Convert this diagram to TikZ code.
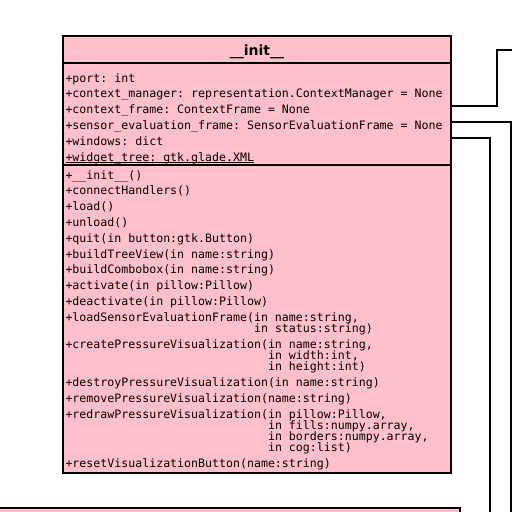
\documentclass[tikz,border=0pt]{standalone}
\usepackage{fontspec}
\setsansfont{DejaVu Sans}
\newfontfamily\monof{DejaVu Sans Mono}
\definecolor{umlpink}{HTML}{FFC0CB}
\frenchspacing
\begin{document}
\begin{tikzpicture}[x=1pt,y=-1pt,
  line/.style={draw=black, line width=2pt},
  box/.style={draw=black, line width=2pt, fill=umlpink, inner sep=0pt, outer sep=0pt},
  txt/.style={anchor=base west, inner sep=0pt, outer sep=0pt, font={\monof\frenchspacing\fontsize{11.6pt}{11.6pt}\selectfont}},
  ttl/.style={anchor=base, inner sep=0pt, font={\sffamily\bfseries\fontsize{14pt}{14pt}\selectfont}}]
\path[use as bounding box] (0,0) rectangle (512,512);
\clip (0,0) rectangle (512,512);
% lower class box (partly off page)
\node[box, minimum width=480pt, minimum height=60pt, anchor=north east] (low) at (460,508) {};
% main class box
\node[box, minimum width=388pt, minimum height=437pt, anchor=north west] (cls) at (63,36) {};
\draw[line] (cls.west |- 0,63) -- (cls.east |- 0,63);
\draw[line] (cls.west |- 0,164.5) -- (cls.east |- 0,164.5);
\node[ttl] (title) at (257,55) {\_\_init\_\_};
% attributes
\node[txt] (a1) at (65.5,82) {+port: int};
\node[txt] (a2) at (65.5,97.9) {+context\_manager: representation.ContextManager = None};
\node[txt] (a3) at (65.5,113.8) {+context\_frame: ContextFrame = None};
\node[txt] (a4) at (65.5,129.7) {+sensor\_evaluation\_frame: SensorEvaluationFrame = None};
\node[txt] (a5) at (65.5,145.6) {+windows: dict};
\node[txt] (a6) at (65.5,161.3) {+widget\_tree: gtk.glade.XML};
\draw[line width=1pt] ([yshift=-1.2pt]a6.base west) -- ([yshift=-1.2pt]a6.base east);
% methods
\node[txt] (m1) at (65.5,179) {+\_\_init\_\_()};
\node[txt] (m2) at (65.5,194.8) {+connectHandlers()};
\node[txt] (m3) at (65.5,210.6) {+load()};
\node[txt] (m4) at (65.5,226.4) {+unload()};
\node[txt] (m5) at (65.5,242.2) {+quit(in button:gtk.Button)};
\node[txt] (m6) at (65.5,258) {+buildTreeView(in name:string)};
\node[txt] (m7) at (65.5,273.8) {+buildCombobox(in name:string)};
\node[txt] (m8) at (65.5,289.6) {+activate(in pillow:Pillow)};
\node[txt] (m9) at (65.5,305.4) {+deactivate(in pillow:Pillow)};
\node[txt] (m10) at (65.5,321.2) {+loadSensorEvaluationFrame(in name:string,};
\node[txt] (m10b) at (65.5,332.4) {\hphantom{+loadSensorEvaluationFrame(}in status:string)};
\node[txt] (m11) at (65.5,348.2) {+createPressureVisualization(in name:string,};
\node[txt] (m11b) at (65.5,359.4) {\hphantom{+createPressureVisualization(}in width:int,};
\node[txt] (m11c) at (65.5,370.6) {\hphantom{+createPressureVisualization(}in height:int)};
\node[txt] (m12) at (65.5,386.4) {+destroyPressureVisualization(in name:string)};
\node[txt] (m13) at (65.5,402.2) {+removePressureVisualization(name:string)};
\node[txt] (m14) at (65.5,418) {+redrawPressureVisualization(in pillow:Pillow,};
\node[txt] (m14b) at (65.5,429.2) {\hphantom{+redrawPressureVisualization(}in fills:numpy.array,};
\node[txt] (m14c) at (65.5,440.4) {\hphantom{+redrawPressureVisualization(}in borders:numpy.array,};
\node[txt] (m14d) at (65.5,451.6) {\hphantom{+redrawPressureVisualization(}in cog:list)};
\node[txt] (m15) at (65.5,467.4) {+resetVisualizationButton(name:string)};
% connectors
\coordinate (s1) at (cls.east |- 0,106);
\coordinate (s2) at (cls.east |- 0,122);
\coordinate (s3) at (cls.east |- 0,138);
\coordinate (e1) at (516,50);
\coordinate (e2) at (511,516);
\coordinate (e3) at (490,516);
\draw[line] (s1) -- (497,106) |- (e1);
\draw[line] (s2) -| (e2);
\draw[line] (s3) -| (e3);
\end{tikzpicture}
\end{document}
